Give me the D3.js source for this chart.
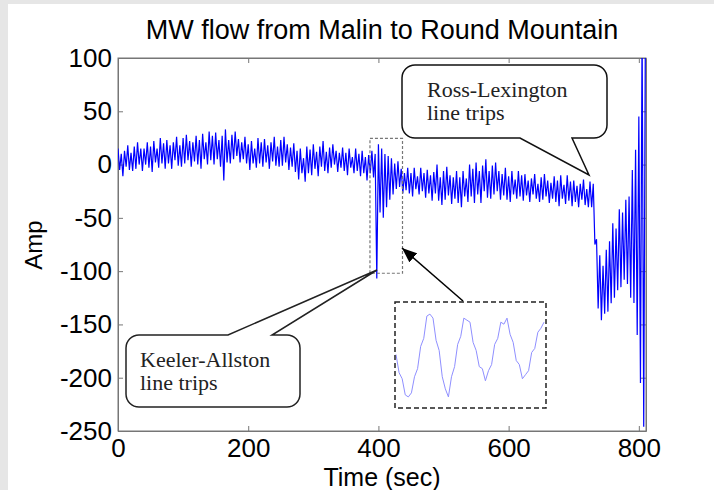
<!DOCTYPE html>
<html lang="en">
<head>
<meta charset="UTF-8">
<title>MW flow from Malin to Round Mountain</title>
<script src="https://d3js.org/d3.v7.min.js"></script>
<style>
  body { margin: 0; background: #fff; }
  .axis text { font-family: "Liberation Sans", Arial, sans-serif; font-size: 26px; fill: #000; }
  .axis path, .axis line { stroke: #777; stroke-width: 1px; }
  .label { font-family: "Liberation Sans", Arial, sans-serif; font-size: 26px; fill: #000; }
  .note { font-family: "Liberation Serif", "Times New Roman", serif; font-size: 22px; fill: #222; }
</style>
</head>
<body>
<script>
// samples every 2.5 s (Amp)
var timeStep = 2.5;
var ampValues = [
  15, -5, 10, -11, 13, -2, 18, -5, 11, -6,
  17, -4, 21, 0, 15, -6, 15, 0, 21, -3,
  17, -7, 22, 2, 15, -3, 25, 1, 20, -4,
  23, 1, 18, -4, 21, 4, 26, -1, 18, -2,
  25, 1, 28, 4, 22, -2, 21, 3, 27, 0,
  23, -4, 29, 5, 21, 0, 31, 4, 27, 0,
  30, 5, 23, -2, 27, -15, 33, 2, 23, 1,
  28, 5, 31, 8, 24, 2, 21, 5, 26, 1,
  19, -5, 22, 1, 15, -3, 25, 1, 21, -2,
  24, 2, 18, -4, 21, 3, 26, -1, 17, -2,
  23, -1, 26, 2, 19, -5, 16, -2, 20, -7,
  13, -14, 15, -8, 6, -16, 17, -8, 14, -10,
  19, -4, 12, -11, 17, -2, 22, -6, 12, -8,
  16, -3, 19, 0, 13, -7, 11, -3, 16, -6,
  11, -10, 15, -3, 7, -8, 15, -6, 10, -11,
  13, -8, 7, -15, 9, -8, 13, -12, 10, -107,
  19, -45, 15, -50, 10, -40, 8, -33, 6, -28,
  1, -23, 3, -21, -4, -27, -8, -24, -3, -27,
  -8, -30, -3, -23, -11, -28, -3, -25, -8, -31,
  -5, -27, -10, -34, -7, -27, 0, -34, -12, -38,
  -6, -33, -2, -29, -10, -37, -12, -32, -6, -36,
  -12, -40, -6, -30, -13, -35, 0, -30, -4, -36,
  2, -28, -6, -36, -1, -25, 5, -31, -6, -32,
  -1, -28, 2, -25, -6, -33, -9, -29, -3, -33,
  -11, -35, -6, -28, -14, -32, -6, -30, -10, -34,
  -9, -29, -15, -35, -13, -28, -9, -32, -18, -35,
  -12, -33, -9, -30, -15, -36, -17, -32, -11, -35,
  -15, -39, -10, -32, -19, -37, -10, -34, -16, -39,
  -15, -35, -20, -40, -18, -33, -14, -38, -23, -40,
  -16, -40, -18, -75, -70, -135, -85, -146, -95, -140,
  -80, -138, -72, -130, -55, -125, -60, -118, -42, -115,
  -45, -108, -33, -112, -30, -125, -5, -130, 14, -160,
  45, -205, 130, -246, 120
];

// zoomed view of the Keeler-Allston trip, one sample per second from t = 392
var insetStart = 392;
var insetValues = [
  -15, -24, -27, -35, -36, -34, -26, -22, -11, -7,
  4, 5, 3, -8, -13, -26, -32, -36, -26, -21,
  -10, -6, 3, 2, 1, -9, -13, -21, -22, -28,
  -23, -20, -10, -7, 1, 0, 3, -5, -9, -18,
  -20, -27, -25, -23, -14, -12, -4, -2, 1
];

var xTicks = [0, 200, 400, 600, 800];
var yTicks = [100, 50, 0, -50, -100, -150, -200, -250];

var W = 714, H = 490;
var plotLeft = 118, plotRight = 646, plotTop = 58, plotBottom = 431;

var svg = d3.select('body').append('svg')
  .attr('width', W)
  .attr('height', H);

// grey page border like the screenshot
svg.append('rect').attr('width', W).attr('height', H).attr('fill', '#e6e6e6');
svg.append('rect').attr('x', 8).attr('y', 4).attr('width', W - 8).attr('height', H - 4).attr('fill', '#fff');

var x = d3.scaleLinear().domain([0, 811]).range([plotLeft, plotRight]);
var y = d3.scaleLinear().domain([-250, 100]).range([plotBottom, plotTop]);

var plain = function(d){ return String(d); };

var defs = svg.append('defs');
defs.append('clipPath').attr('id', 'plotclip')
  .append('rect')
  .attr('x', plotLeft).attr('y', plotTop)
  .attr('width', plotRight - plotLeft).attr('height', plotBottom - plotTop);

defs.append('marker')
  .attr('id', 'arrowhead')
  .attr('markerUnits', 'userSpaceOnUse')
  .attr('markerWidth', 16).attr('markerHeight', 12)
  .attr('refX', 15).attr('refY', 6)
  .attr('orient', 'auto')
  .append('path')
  .attr('d', 'M0,0 L15,6 L0,12 Z')
  .attr('fill', '#000');

// axes (ticks point inward on all four sides)
svg.append('g')
  .attr('class', 'x axis')
  .attr('transform', 'translate(0,' + plotBottom + ')')
  .call(d3.axisBottom(x).tickValues(xTicks).tickFormat(plain).tickSizeInner(-5).tickSizeOuter(0).tickPadding(8));

svg.append('g')
  .attr('class', 'y axis')
  .attr('transform', 'translate(' + plotLeft + ',0)')
  .call(d3.axisLeft(y).tickValues(yTicks).tickFormat(plain).tickSizeInner(-5).tickSizeOuter(0).tickPadding(6));

svg.append('g')
  .attr('class', 'axis')
  .attr('transform', 'translate(0,' + plotTop + ')')
  .call(d3.axisTop(x).tickValues(xTicks).tickSizeInner(-5).tickSizeOuter(0).tickFormat(''));

svg.append('g')
  .attr('class', 'axis')
  .attr('transform', 'translate(' + plotRight + ',0)')
  .call(d3.axisRight(y).tickValues(yTicks).tickSizeInner(-5).tickSizeOuter(0).tickFormat(''));

svg.append('rect')
  .attr('x', plotLeft).attr('y', plotTop)
  .attr('width', plotRight - plotLeft).attr('height', plotBottom - plotTop)
  .attr('fill', 'none')
  .attr('stroke', '#777');

// signal
var line = d3.line()
  .x(function(d, i){ return x(i * timeStep); })
  .y(function(d){ return y(d); });

svg.append('path')
  .datum(ampValues)
  .attr('clip-path', 'url(#plotclip)')
  .attr('d', line)
  .attr('fill', 'none')
  .attr('stroke', '#0000ff')
  .attr('stroke-width', 1.2);

// dotted box round the Keeler-Allston event
svg.append('rect')
  .attr('x', x(387)).attr('y', y(24.5))
  .attr('width', x(437) - x(387))
  .attr('height', y(-102) - y(24.5))
  .attr('fill', 'none')
  .attr('stroke', '#777')
  .attr('stroke-width', 1.2)
  .attr('stroke-dasharray', '3,2');

// inset
var ix0 = 395, ix1 = 546, iy0 = 302, iy1 = 408;
var ix = d3.scaleLinear().domain([insetStart, insetStart + insetValues.length - 1]).range([ix0 + 1, ix1 - 2]);
var iy = d3.scaleLinear().domain([-40, 10]).range([iy1 - 3, iy0 + 2]);

svg.append('path')
  .datum(insetValues)
  .attr('d', d3.line()
    .x(function(d, i){ return ix(insetStart + i); })
    .y(function(d){ return iy(d); }))
  .attr('fill', 'none')
  .attr('stroke', '#8f8fff')
  .attr('stroke-width', 1);

svg.append('rect')
  .attr('x', ix0).attr('y', iy0)
  .attr('width', ix1 - ix0).attr('height', iy1 - iy0)
  .attr('fill', 'none')
  .attr('stroke', '#222')
  .attr('stroke-width', 1.5)
  .attr('stroke-dasharray', '5,3');

svg.append('line')
  .attr('x1', 463).attr('y1', 301)
  .attr('x2', 402).attr('y2', 248)
  .attr('stroke', '#000')
  .attr('stroke-width', 1.5)
  .attr('marker-end', 'url(#arrowhead)');

// callout bubbles
function bubbleBottom(x0, y0, x1, y1, r, p1, p2, tx, ty){
  return 'M' + (x0 + r) + ',' + y0 +
    'H' + (x1 - r) + 'A' + r + ',' + r + ' 0 0 1 ' + x1 + ',' + (y0 + r) +
    'V' + (y1 - r) + 'A' + r + ',' + r + ' 0 0 1 ' + (x1 - r) + ',' + y1 +
    'H' + p2 + 'L' + tx + ',' + ty + 'L' + p1 + ',' + y1 +
    'H' + (x0 + r) + 'A' + r + ',' + r + ' 0 0 1 ' + x0 + ',' + (y1 - r) +
    'V' + (y0 + r) + 'A' + r + ',' + r + ' 0 0 1 ' + (x0 + r) + ',' + y0 + 'Z';
}

function bubbleTop(x0, y0, x1, y1, r, p1, p2, tx, ty){
  return 'M' + (x0 + r) + ',' + y0 +
    'H' + p1 + 'L' + tx + ',' + ty + 'L' + p2 + ',' + y0 +
    'H' + (x1 - r) + 'A' + r + ',' + r + ' 0 0 1 ' + x1 + ',' + (y0 + r) +
    'V' + (y1 - r) + 'A' + r + ',' + r + ' 0 0 1 ' + (x1 - r) + ',' + y1 +
    'H' + (x0 + r) + 'A' + r + ',' + r + ' 0 0 1 ' + x0 + ',' + (y1 - r) +
    'V' + (y0 + r) + 'A' + r + ',' + r + ' 0 0 1 ' + (x0 + r) + ',' + y0 + 'Z';
}

svg.append('path')
  .attr('d', bubbleBottom(402, 65, 607, 138, 13, 520, 572, 589, 175))
  .attr('fill', '#fff')
  .attr('stroke', '#111')
  .attr('stroke-width', 1.5);

svg.append('text').attr('class', 'note').attr('x', 427).attr('y', 97).text('Ross-Lexington');
svg.append('text').attr('class', 'note').attr('x', 427).attr('y', 120).text('line trips');

svg.append('path')
  .attr('d', bubbleTop(126, 335, 300, 407, 13, 228, 272, 377, 270))
  .attr('fill', '#fff')
  .attr('stroke', '#222')
  .attr('stroke-width', 1.5);

svg.append('text').attr('class', 'note').attr('x', 140).attr('y', 367).text('Keeler-Allston');
svg.append('text').attr('class', 'note').attr('x', 140).attr('y', 390).text('line trips');

// titles
svg.append('text')
  .attr('class', 'label')
  .attr('x', (plotLeft + plotRight) / 2)
  .attr('y', 39)
  .attr('text-anchor', 'middle')
  .style('font-size', '27px')
  .text('MW flow from Malin to Round Mountain');

svg.append('text')
  .attr('class', 'label')
  .attr('x', (plotLeft + plotRight) / 2)
  .attr('y', 486)
  .attr('text-anchor', 'middle')
  .style('font-size', '25px')
  .text('Time (sec)');

svg.append('text')
  .attr('class', 'label')
  .attr('transform', 'translate(42,245) rotate(-90)')
  .attr('text-anchor', 'middle')
  .style('font-size', '24px')
  .text('Amp');
</script>
</body>
</html>
